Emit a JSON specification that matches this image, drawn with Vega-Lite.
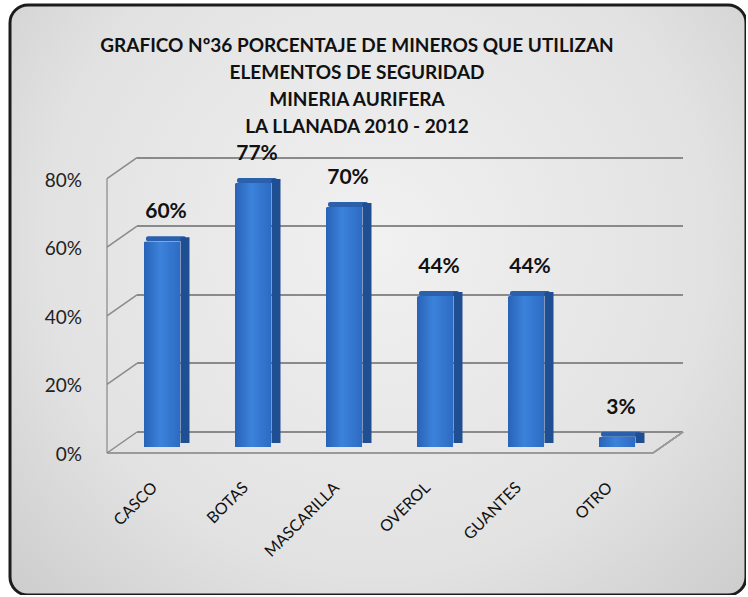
{
  "$schema": "https://vega.github.io/schema/vega-lite/v6.json",
  "width": 736,
  "height": 590,
  "autosize": {"type": "none"},
  "padding": {"left": 10, "top": 5, "right": 0, "bottom": 0},
  "background": "white",
  "config": {
    "font": "Lato",
    "view": {
      "fill": {"gradient": "radial", "x1": 0.5, "y1": 0.42, "r1": 0, "x2": 0.5, "y2": 0.42, "r2": 0.75,
        "stops": [{"offset": 0, "color": "#f1f1f1"}, {"offset": 0.6, "color": "#e2e2e2"}, {"offset": 0.92, "color": "#cdcdcd"}, {"offset": 1, "color": "#b4b4b4"}]},
      "stroke": "#1c1c1c",
      "strokeWidth": 3,
      "cornerRadius": 18
    }
  },
  "title": {
    "text": ["GRAFICO Nº36 PORCENTAJE DE MINEROS QUE UTILIZAN", "ELEMENTOS  DE SEGURIDAD", "MINERIA AURIFERA", "LA LLANADA 2010 - 2012"],
    "font": "Lato",
    "fontSize": 19,
    "fontWeight": "bold",
    "color": "#111111",
    "lineHeight": 27,
    "anchor": "middle",
    "dx": -21,
    "offset": -132
  },
  "datasets": {
    "main": [
      {"cat": "CASCO", "pct": 0.60},
      {"cat": "BOTAS", "pct": 0.77},
      {"cat": "MASCARILLA", "pct": 0.70},
      {"cat": "OVEROL", "pct": 0.44},
      {"cat": "GUANTES", "pct": 0.44},
      {"cat": "OTRO", "pct": 0.03}
    ],
    "ticks": [{"v": 0}, {"v": 0.2}, {"v": 0.4}, {"v": 0.6}, {"v": 0.8}]
  },
  "data": {"name": "main"},
  "layer": [
    {
      "mark": {"type": "bar", "width": 40, "xOffset": -31.5, "yOffset": -5, "y2Offset": 0, "color": "#2b60ad", "cornerRadius": 2},
      "encoding": {
        "x": {"field": "cat", "type": "nominal", "sort": null,
          "scale": {"range": [142, 688], "paddingInner": 0.6, "paddingOuter": 0.3},
          "axis": {"title": null, "orient": "bottom", "offset": -118, "labelAngle": -45, "labelOffset": -48.5, "labelPadding": 2, "ticks": false, "tickSize": 0, "domain": false, "grid": false, "labelFontSize": 16, "labelFont": "Lato", "labelColor": "#111111"}},
        "y": {"field": "pct", "type": "quantitative",
          "scale": {"domain": [0, 0.8], "range": [442, 167.6], "zero": false, "nice": false},
          "axis": {"title": null, "orient": "left", "offset": -91, "translate": 6, "values": [0, 0.2, 0.4, 0.6, 0.8], "format": ".0%", "labelPadding": 25, "labelOffset": 2, "ticks": false, "tickSize": 0, "domain": true, "domainColor": "#9a9a9a", "domainWidth": 1.5, "grid": false, "labelFontSize": 19, "labelFont": "Lato", "labelColor": "#222222"}},
        "y2": {"field": "pct"}
      }
    },
    {
      "mark": {"type": "bar", "width": 9, "xOffset": -12.5, "yOffset": -4, "y2Offset": -4, "color": "#1f4f92"},
      "encoding": {
        "x": {"field": "cat", "type": "nominal", "sort": null, "axis": null},
        "y": {"field": "pct", "type": "quantitative", "axis": null}
      }
    },
    {
      "mark": {"type": "bar", "xOffset": -35.5, "cornerRadiusTopLeft": 2,
        "fill": {"gradient": "linear", "x1": 0, "y1": 0, "x2": 1, "y2": 0,
          "stops": [{"offset": 0, "color": "#2862b6"}, {"offset": 0.45, "color": "#3c82db"}, {"offset": 1, "color": "#2d6bc3"}]}},
      "encoding": {
        "x": {"field": "cat", "type": "nominal", "sort": null, "axis": null},
        "y": {"field": "pct", "type": "quantitative", "axis": null}
      }
    },
    {
      "mark": {"type": "rule", "color": "#9a9a9a", "strokeWidth": 1.5, "xOffset": -90.5, "x2Offset": 0.5, "yOffset": 6},
      "encoding": {
        "x": {"datum": "CASCO", "type": "nominal", "axis": null},
        "x2": {"datum": "OTRO"},
        "y": {"datum": 0, "type": "quantitative", "axis": null}
      }
    },
    {
      "mark": {"type": "rule", "color": "#9a9a9a", "strokeWidth": 1.5, "xOffset": 0.5, "x2Offset": 30.5, "yOffset": 6, "y2Offset": -15},
      "encoding": {
        "x": {"datum": "OTRO", "type": "nominal", "axis": null},
        "x2": {"datum": "OTRO"},
        "y": {"datum": 0, "type": "quantitative", "axis": null},
        "y2": {"datum": 0}
      }
    },
    {
      "data": {"name": "ticks"},
      "mark": {"type": "rule", "color": "#8a8a8a", "strokeWidth": 1.5, "xOffset": -90.5, "x2Offset": -60.5, "yOffset": 6, "y2Offset": -15},
      "encoding": {
        "x": {"datum": "CASCO", "type": "nominal", "axis": null},
        "x2": {"datum": "CASCO"},
        "y": {"field": "v", "type": "quantitative", "axis": null},
        "y2": {"field": "v"}
      }
    },
    {
      "mark": {"type": "text", "font": "Lato", "fontSize": 21, "fontWeight": "bold", "color": "#111111", "baseline": "middle", "dy": -29, "xOffset": -31.5},
      "encoding": {
        "x": {"field": "cat", "type": "nominal", "sort": null, "axis": null},
        "y": {"field": "pct", "type": "quantitative",
          "axis": {"title": null, "orient": "left", "grid": true, "gridColor": "#8a8a8a", "gridWidth": 2, "labels": false, "ticks": false, "tickSize": 0, "domain": false, "translate": -15, "zindex": 0, "values": [0, 0.2, 0.4, 0.6, 0.8]}},
        "text": {"field": "pct", "type": "quantitative", "format": ".0%"}
      }
    }
  ],
  "resolve": {"axis": {"x": "independent", "y": "independent"}}
}
